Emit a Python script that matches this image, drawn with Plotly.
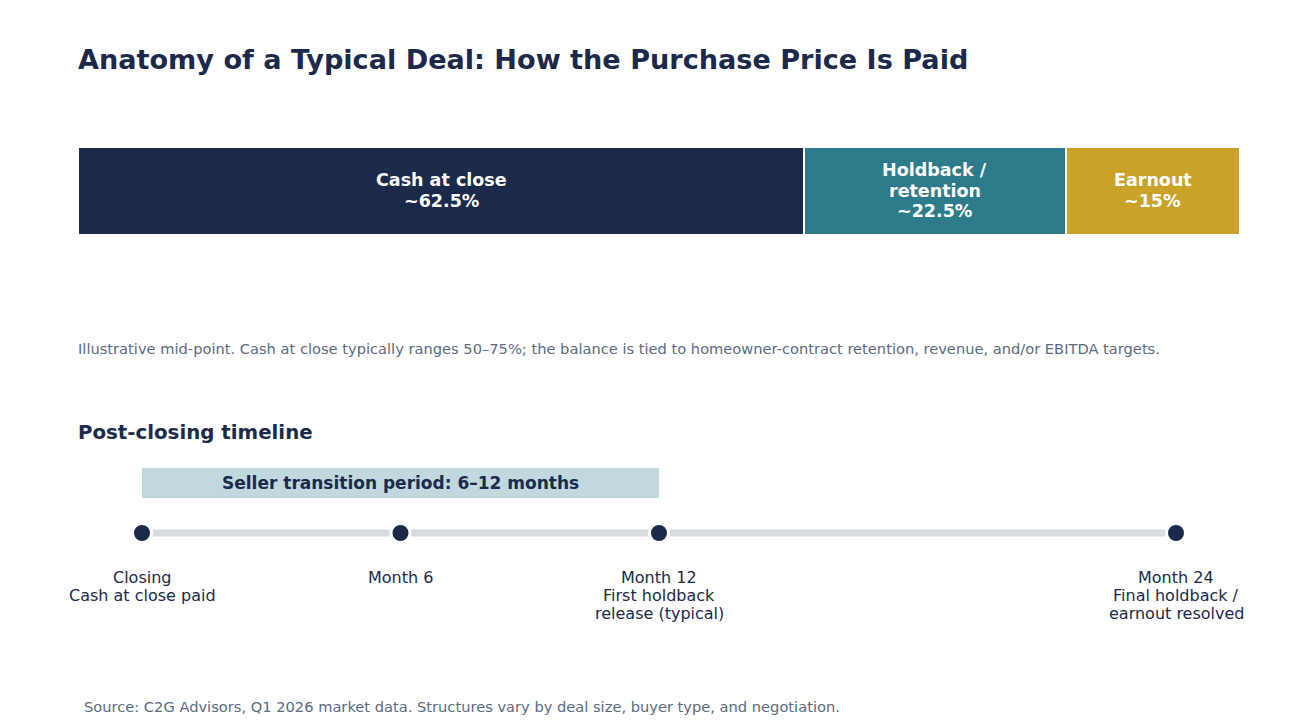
import plotly.graph_objects as go

# ---- data ----
segment_lines = [["Cash at close"], ["Holdback /", "retention"], ["Earnout"]]
shares = [62.5, 22.5, 15.0]
share_labels = ["~62.5%", "~22.5%", "~15%"]
seg_colors = ["#1b2a4a", "#2e7b8c", "#c9a227"]

milestone_months = [0, 6, 12, 24]
milestone_lines = [
    ["Closing", "Cash at close paid"],
    ["Month 6"],
    ["Month 12", "First holdback", "release (typical)"],
    ["Month 24", "Final holdback /", "earnout resolved"],
]
transition_start, transition_end = 0, 12

W, H = 1292, 721
OFF = 8  # page offset of the plot inside the browser
ML, MR, MT, MB = 78 - OFF, 1292 - (1240 - OFF), 100, 60
PH = H - MT - MB

def py(p):  # reference pixel -> paper y
    return (H - MB - (p - OFF)) / PH

FONT = "DejaVu Sans"
NAVY = "#1b2a4a"
GREY = "#5b6b80"

fig = go.Figure()

cum = 0.0
for lines, val, lab, col in zip(segment_lines, shares, share_labels, seg_colors):
    fig.add_trace(go.Bar(
        x=[val], y=["deal"], orientation="h", name=" ".join(lines),
        marker=dict(color=col, line=dict(color="white", width=2)),
        hoverinfo="skip", width=1,
    ))
    all_lines = lines + [lab]
    n = len(all_lines)
    for i, t in enumerate(all_lines):
        yc = 190.5 + (i - (n - 1) / 2) * 20.5
        fig.add_annotation(xref="x", yref="paper", x=cum + val / 2, y=py(yc),
                           text=f"<b>{t}</b>", showarrow=False,
                           yanchor="middle", xanchor="center",
                           font=dict(family=FONT, size=17.5, color="white"))
    cum += val

# timeline
fig.add_trace(go.Scatter(
    x=[milestone_months[0], milestone_months[-1]], y=[0, 0],
    mode="lines", line=dict(color="#d6dce2", width=7),
    xaxis="x2", yaxis="y2", hoverinfo="skip",
))
fig.add_trace(go.Scatter(
    x=milestone_months, y=[0] * len(milestone_months),
    mode="markers",
    marker=dict(size=19, color=NAVY, line=dict(color="white", width=3)),
    xaxis="x2", yaxis="y2", hoverinfo="skip", cliponaxis=False,
))
for m, lines in zip(milestone_months, milestone_lines):
    for i, t in enumerate(lines):
        fig.add_annotation(xref="x2", yref="paper", x=m, y=py(577 + 18 * i),
                           text=t, showarrow=False, yanchor="middle", xanchor="center",
                           font=dict(family=FONT, size=16, color=NAVY))

# timeline y2 axis: ref pixel 438..(H-MB+OFF), line at ref y=533
t_top = 438
t_bot = H - MB + OFF
line_px = 533
span = 10.0
hi = (line_px - t_top) / (t_bot - t_top) * span
lo = hi - span
px_per_unit = (t_bot - t_top) / span
def ydata(p):
    return hi - (p - t_top) / px_per_unit

fig.add_shape(type="rect", xref="x2", yref="y2",
              x0=transition_start, x1=transition_end,
              y0=ydata(498), y1=ydata(468),
              fillcolor="#c0d8de", line=dict(width=0), layer="below")
fig.add_annotation(xref="x2", yref="y2",
                   x=(transition_start + transition_end) / 2, y=ydata(483),
                   text="<b>Seller transition period: 6–12 months</b>",
                   showarrow=False, font=dict(family=FONT, size=17, color=NAVY))

fig.add_annotation(xref="paper", yref="paper", x=0, y=py(348), xshift=-2,
                   xanchor="left", yanchor="middle", showarrow=False,
                   text="Illustrative mid-point. Cash at close typically ranges 50–75%; the balance is tied to homeowner-contract retention, revenue, and/or EBITDA targets.",
                   font=dict(family=FONT, size=14.65, color=GREY))
fig.add_annotation(xref="paper", yref="paper", x=0, y=py(432), xshift=-2,
                   xanchor="left", yanchor="middle", showarrow=False,
                   text="<b>Post-closing timeline</b>",
                   font=dict(family=FONT, size=19.8, color=NAVY))
fig.add_annotation(xref="paper", yref="paper", x=(84 - 78) / (W - ML - MR), y=py(706), xshift=-2,
                   xanchor="left", yanchor="middle", showarrow=False,
                   text="Source: C2G Advisors, Q1 2026 market data. Structures vary by deal size, buyer type, and negotiation.",
                   font=dict(family=FONT, size=14.65, color=GREY))

pxm = (1176 - 142) / 24.0
x2lo = -(142 - 78) / pxm
x2hi = 24 + (1240 - 1176) / pxm

fig.update_layout(
    width=W, height=H,
    margin=dict(l=ML, r=MR, t=MT, b=MB),
    paper_bgcolor="white", plot_bgcolor="white",
    barmode="stack", bargap=0, showlegend=False,
    title=dict(text="<b>Anatomy of a Typical Deal: How the Purchase Price Is Paid</b>",
               x=ML / W, xanchor="left", xref="container",
               y=1 - (60 - OFF) / H, yanchor="middle", yref="container",
               font=dict(family=FONT, size=27.1, color=NAVY)),
    xaxis=dict(range=[0, 100], visible=False, domain=[0, 1], fixedrange=True),
    yaxis=dict(range=[-0.5, 0.5], visible=False, domain=[py(235), py(147)], fixedrange=True),
    xaxis2=dict(range=[x2lo, x2hi], visible=False, domain=[0, 1], anchor="y2"),
    yaxis2=dict(range=[lo, hi], visible=False, domain=[py(t_bot), py(t_top)], anchor="x2"),
    font=dict(family=FONT),
)

fig.write_html("out.html")
